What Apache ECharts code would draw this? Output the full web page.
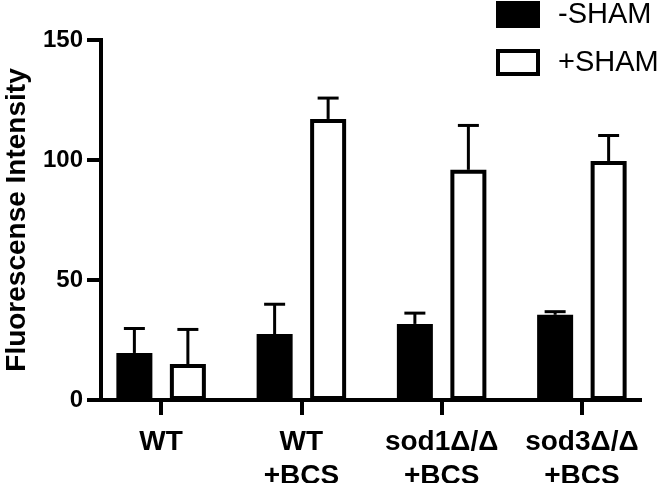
<!DOCTYPE html>
<html>
<head>
<meta charset="utf-8">
<script src="https://cdn.jsdelivr.net/npm/echarts@6/dist/echarts.min.js"></script>
<style>html,body{margin:0;padding:0;background:#fff}#c{width:660px;height:483px}</style>
</head>
<body>
<div id="c"></div>
<script>
// ---- data ----
const categories = ['WT', 'WT\n+BCS', 'sod1\u0394/\u0394\n+BCS', 'sod3\u0394/\u0394\n+BCS'];
const seriesNames = ['-SHAM', '+SHAM'];
const minusSham = [19.6, 27.5, 31.7, 35.5];
const minusShamErr = [10.2, 12.4, 4.5, 1.3];
const plusSham = [15.0, 117.1, 95.9, 99.6];
const plusShamErr = [14.4, 8.7, 18.5, 10.6];
const yTicks = [0, 50, 100, 150];

// ---- styles ----
const FONT = '"Liberation Sans", Arial, Helvetica, sans-serif';
const BAR_W = 36;
const GAP_PX = 17.5;
const LW = 4;

const chart = echarts.init(document.getElementById('c'), null, {renderer: 'canvas'});

function errSeries(means, errs, sign) {
  return {
    type: 'custom',
    xAxisIndex: 0, yAxisIndex: 0,
    z: 1,
    silent: true,
    data: means.map((m, i) => [i, m, errs[i]]),
    renderItem: function (params, api) {
      const ci = api.value(0), m = api.value(1), e = api.value(2);
      const p0 = api.coord([ci, m]);
      const p1 = api.coord([ci, m + e]);
      const x = p0[0] + sign * (BAR_W + GAP_PX) / 2;
      const capHalf = 10.5;
      return {
        type: 'group',
        children: [
          {type: 'line', shape: {x1: x, y1: p0[1], x2: x, y2: p1[1]},
           style: {stroke: '#000', lineWidth: 3}},
          {type: 'line', shape: {x1: x - capHalf, y1: p1[1], x2: x + capHalf, y2: p1[1]},
           style: {stroke: '#000', lineWidth: 3}}
        ]
      };
    }
  };
}

const option = {
  animation: false,
  backgroundColor: '#fff',
  textStyle: {fontFamily: FONT},
  grid: [
    {left: 91, right: 8, top: 40, bottom: 83, outerBoundsMode: 'none', containLabel: false},
    {left: 101, right: 20, top: 40, bottom: 83, outerBoundsMode: 'none', containLabel: false}
  ],
  legend: {
    left: 491, top: -5,
    orient: 'vertical',
    icon: 'rect',
    itemWidth: 40, itemHeight: 23,
    itemGap: 19,
    itemStyle: {borderWidth: LW, borderColor: '#000'},
    textStyle: {fontFamily: FONT, fontSize: 29, color: '#000', lineHeight: 27, padding: [0, 0, 0, 15]},
    data: seriesNames
  },
  xAxis: [
    {
      type: 'category', gridIndex: 0, data: categories,
      axisLine: {show: false},
      axisTick: {show: true, alignWithLabel: true, length: 15, lineStyle: {color: '#000', width: 4}},
      axisLabel: {color: '#000', fontFamily: FONT, fontWeight: 'bold', fontSize: 28, lineHeight: 34, margin: 25, interval: 0}
    },
    {
      type: 'value', gridIndex: 1, min: 0, max: 1,
      axisLine: {show: true, lineStyle: {color: '#000', width: LW, cap: 'square'}},
      axisTick: {show: false}, axisLabel: {show: false}, splitLine: {show: false}
    }
  ],
  yAxis: [
    {type: 'value', gridIndex: 0, min: yTicks[0], max: yTicks[yTicks.length - 1], interval: 50, show: false},
    {
      type: 'value', gridIndex: 1, min: yTicks[0], max: yTicks[yTicks.length - 1], interval: 50,
      name: 'Fluorescense Intensity', nameLocation: 'middle', nameGap: 70,
      nameTextStyle: {color: '#000', fontFamily: FONT, fontWeight: 'bold', fontSize: 28},
      axisLine: {show: true, lineStyle: {color: '#000', width: LW, cap: 'square'}},
      axisTick: {show: true, length: 14, lineStyle: {color: '#000', width: 4}},
      axisLabel: {color: '#000', fontFamily: FONT, fontWeight: 'bold', fontSize: 24, margin: 18},
      splitLine: {show: false}
    }
  ],
  series: [
    errSeries(minusSham, minusShamErr, -1),
    errSeries(plusSham, plusShamErr, 1),
    {
      name: seriesNames[0], type: 'bar', xAxisIndex: 0, yAxisIndex: 0,
      data: minusSham, barWidth: BAR_W, barGap: (GAP_PX / BAR_W * 100) + '%', z: 3,
      itemStyle: {color: '#000', borderColor: '#000', borderWidth: LW}
    },
    {
      name: seriesNames[1], type: 'bar', xAxisIndex: 0, yAxisIndex: 0,
      data: plusSham, barWidth: BAR_W, barGap: (GAP_PX / BAR_W * 100) + '%', z: 3,
      itemStyle: {color: '#fff', borderColor: '#000', borderWidth: LW}
    }
  ]
};
chart.setOption(option);
</script>
</body>
</html>
